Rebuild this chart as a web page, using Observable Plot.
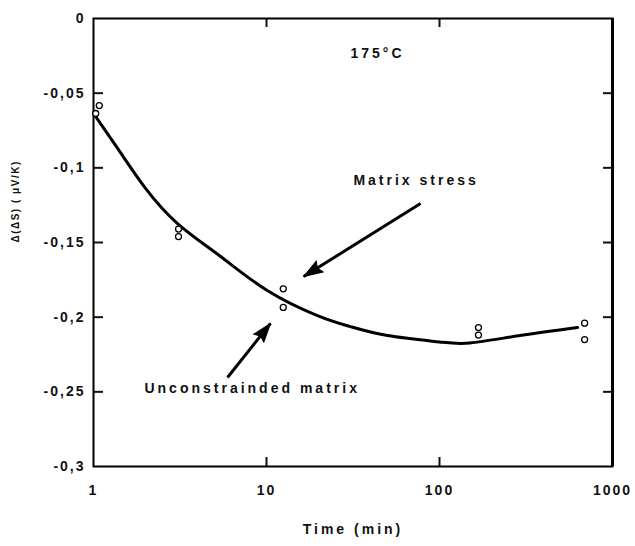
<!DOCTYPE html>
<html><head><meta charset="utf-8">
<script src="https://cdn.jsdelivr.net/npm/d3@7"></script>
<script src="https://cdn.jsdelivr.net/npm/@observablehq/plot@0.6"></script>
<style>
body{margin:0;background:#fff}
#chart svg text{letter-spacing:3px}
#chart svg g[aria-label="x-axis tick label"] text,
#chart svg g[aria-label="y-axis tick label"] text{letter-spacing:2px}
</style>
</head><body><div id="chart"></div>
<script>
// measured points (time in min, Δ(ΔS) in µV/K)
const pointTime  = [1.03, 1.08, 3.1, 3.1, 12.5, 12.5, 168, 168, 690, 690];
const pointValue = [-0.0636, -0.0583, -0.146, -0.141, -0.181, -0.1935, -0.207, -0.212, -0.204, -0.215];
// fitted curve
const curveTime  = [1, 1.43, 2, 3.06, 5.43, 10.1, 19.7, 30.5, 50.1, 100, 150, 292, 628];
const curveValue = [-0.0636, -0.0897, -0.1138, -0.1373, -0.1594, -0.1821, -0.1989, -0.2063, -0.2123, -0.2166, -0.2173, -0.2123, -0.2069];
// axes
const xTicks = [1, 10, 100, 1000];
const xInnerTicks = [10, 100];
const yTicks = [0, -0.05, -0.1, -0.15, -0.2, -0.25, -0.3];
const yTickLabels = ["0", "-0,05", "-0,1", "-0,15", "-0,2", "-0,25", "-0,3"];
const yInnerTicks = [-0.05, -0.1, -0.15, -0.2, -0.25];
// annotations
const arrowFromX = [77.7, 5.95];
const arrowFromY = [-0.1239, -0.2404];
const arrowToX   = [16.4, 10.55];
const arrowToY   = [-0.1728, -0.2042];
const startNotes = ["Matrix stress", "Unconstrainded matrix"];
const startNoteX = [31.8, 1.97];
const startNoteY = [-0.1085, -0.2478];
const tempNote = "175°C";
const tempNoteX = 43.8;
const tempNoteY = -0.0234;

const W = 635, H = 546, mL = 93, mR = 23, mT = 18, mB = 80;
const fw = W - mL - mR, fh = H - mT - mB;
const xDomain = [1, 1000], yDomain = [-0.3, 0];

const sx = Plot.scale({x: {type: "log", domain: xDomain, range: [mL, W - mR]}});
const sy = Plot.scale({y: {type: "linear", domain: yDomain, range: [H - mB, mT]}});

const points = pointTime.map((t, i) => ({t, v: pointValue[i]}));
const curve = curveTime.map((t, i) => ({t, v: curveValue[i]}));
const arrows = arrowFromX.map((x, i) => {
  const a = {x1: x, y1: arrowFromY[i], x2: arrowToX[i], y2: arrowToY[i]};
  const dx = sx.apply(a.x2) - sx.apply(a.x1), dy = sy.apply(a.y2) - sy.apply(a.y1);
  a.rot = Math.atan2(dx, -dy) * 180 / Math.PI;
  return a;
});
const notes = startNotes.map((s, i) => ({s, x: startNoteX[i], y: startNoteY[i]}));

const headShape = {
  draw(context, l) {
    const w = 6.5;
    context.moveTo(0, -l);
    context.lineTo(w, 0);
    context.lineTo(0, -3);
    context.lineTo(-w, 0);
    context.closePath();
  }
};

const chart = Plot.plot({
  width: W, height: H,
  marginLeft: mL, marginRight: mR, marginTop: mT, marginBottom: mB,
  x: {type: "log", domain: xDomain},
  y: {domain: yDomain},
  style: {fontFamily: "'Liberation Sans', Arial, sans-serif", fontSize: "14px", fontWeight: "bold", color: "#111", background: "#fff"},
  marks: [
    Plot.axisX(xTicks, {tickSize: 0, tickPadding: 19, tickFormat: d => String(d), label: null, fontSize: 14}),
    Plot.axisY(yTicks, {tickSize: 0, tickPadding: 8, tickFormat: d => yTickLabels[yTicks.indexOf(d)], label: null, fontSize: 14}),
    Plot.tickY(yInnerTicks, {y: d => d, insetRight: fw - 10, strokeWidth: 2}),
    Plot.tickY(yInnerTicks, {y: d => d, insetLeft: fw - 9, strokeWidth: 2}),
    Plot.tickX(xInnerTicks, {x: d => d, insetTop: fh - 9, strokeWidth: 2}),
    Plot.tickX(xInnerTicks, {x: d => d, insetBottom: fh - 9, strokeWidth: 2}),
    Plot.frame({stroke: "#000", strokeWidth: 2}),
    Plot.ruleX([1000], {stroke: "#000", strokeWidth: 3}),
    Plot.line(curve, {x: "t", y: "v", curve: "natural", stroke: "#000", strokeWidth: 3}),
    Plot.dot(points, {x: "t", y: "v", r: 3, stroke: "#000", fill: "#fff", strokeWidth: 1.3}),
    Plot.link(arrows, {x1: "x1", y1: "y1", x2: "x2", y2: "y2", stroke: "#000", strokeWidth: 3}),
    Plot.vector(arrows, {x: "x2", y: "y2", rotate: "rot", length: 19, anchor: "end", shape: headShape, fill: "#000", stroke: "#000", strokeWidth: 1}),
    Plot.text(notes, {x: "x", y: "y", text: "s", textAnchor: "start", fontSize: 14, fill: "#111"}),
    Plot.text([tempNote], {x: () => tempNoteX, y: () => tempNoteY, fontSize: 14, fill: "#111"}),
    Plot.text(["Time (min)"], {frameAnchor: "bottom", dy: 67, fontSize: 14, fill: "#111"}),
    Plot.text(["Δ(ΔS) ( μV/K)"], {frameAnchor: "left", dx: -78, rotate: -90, fontSize: 10, fill: "#111"})
  ]
});
document.getElementById("chart").appendChild(chart);
chart.querySelectorAll("text").forEach(t => { if (t.textContent.includes("μV/K")) t.style.letterSpacing = "1.5px"; });
</script>
</body></html>
